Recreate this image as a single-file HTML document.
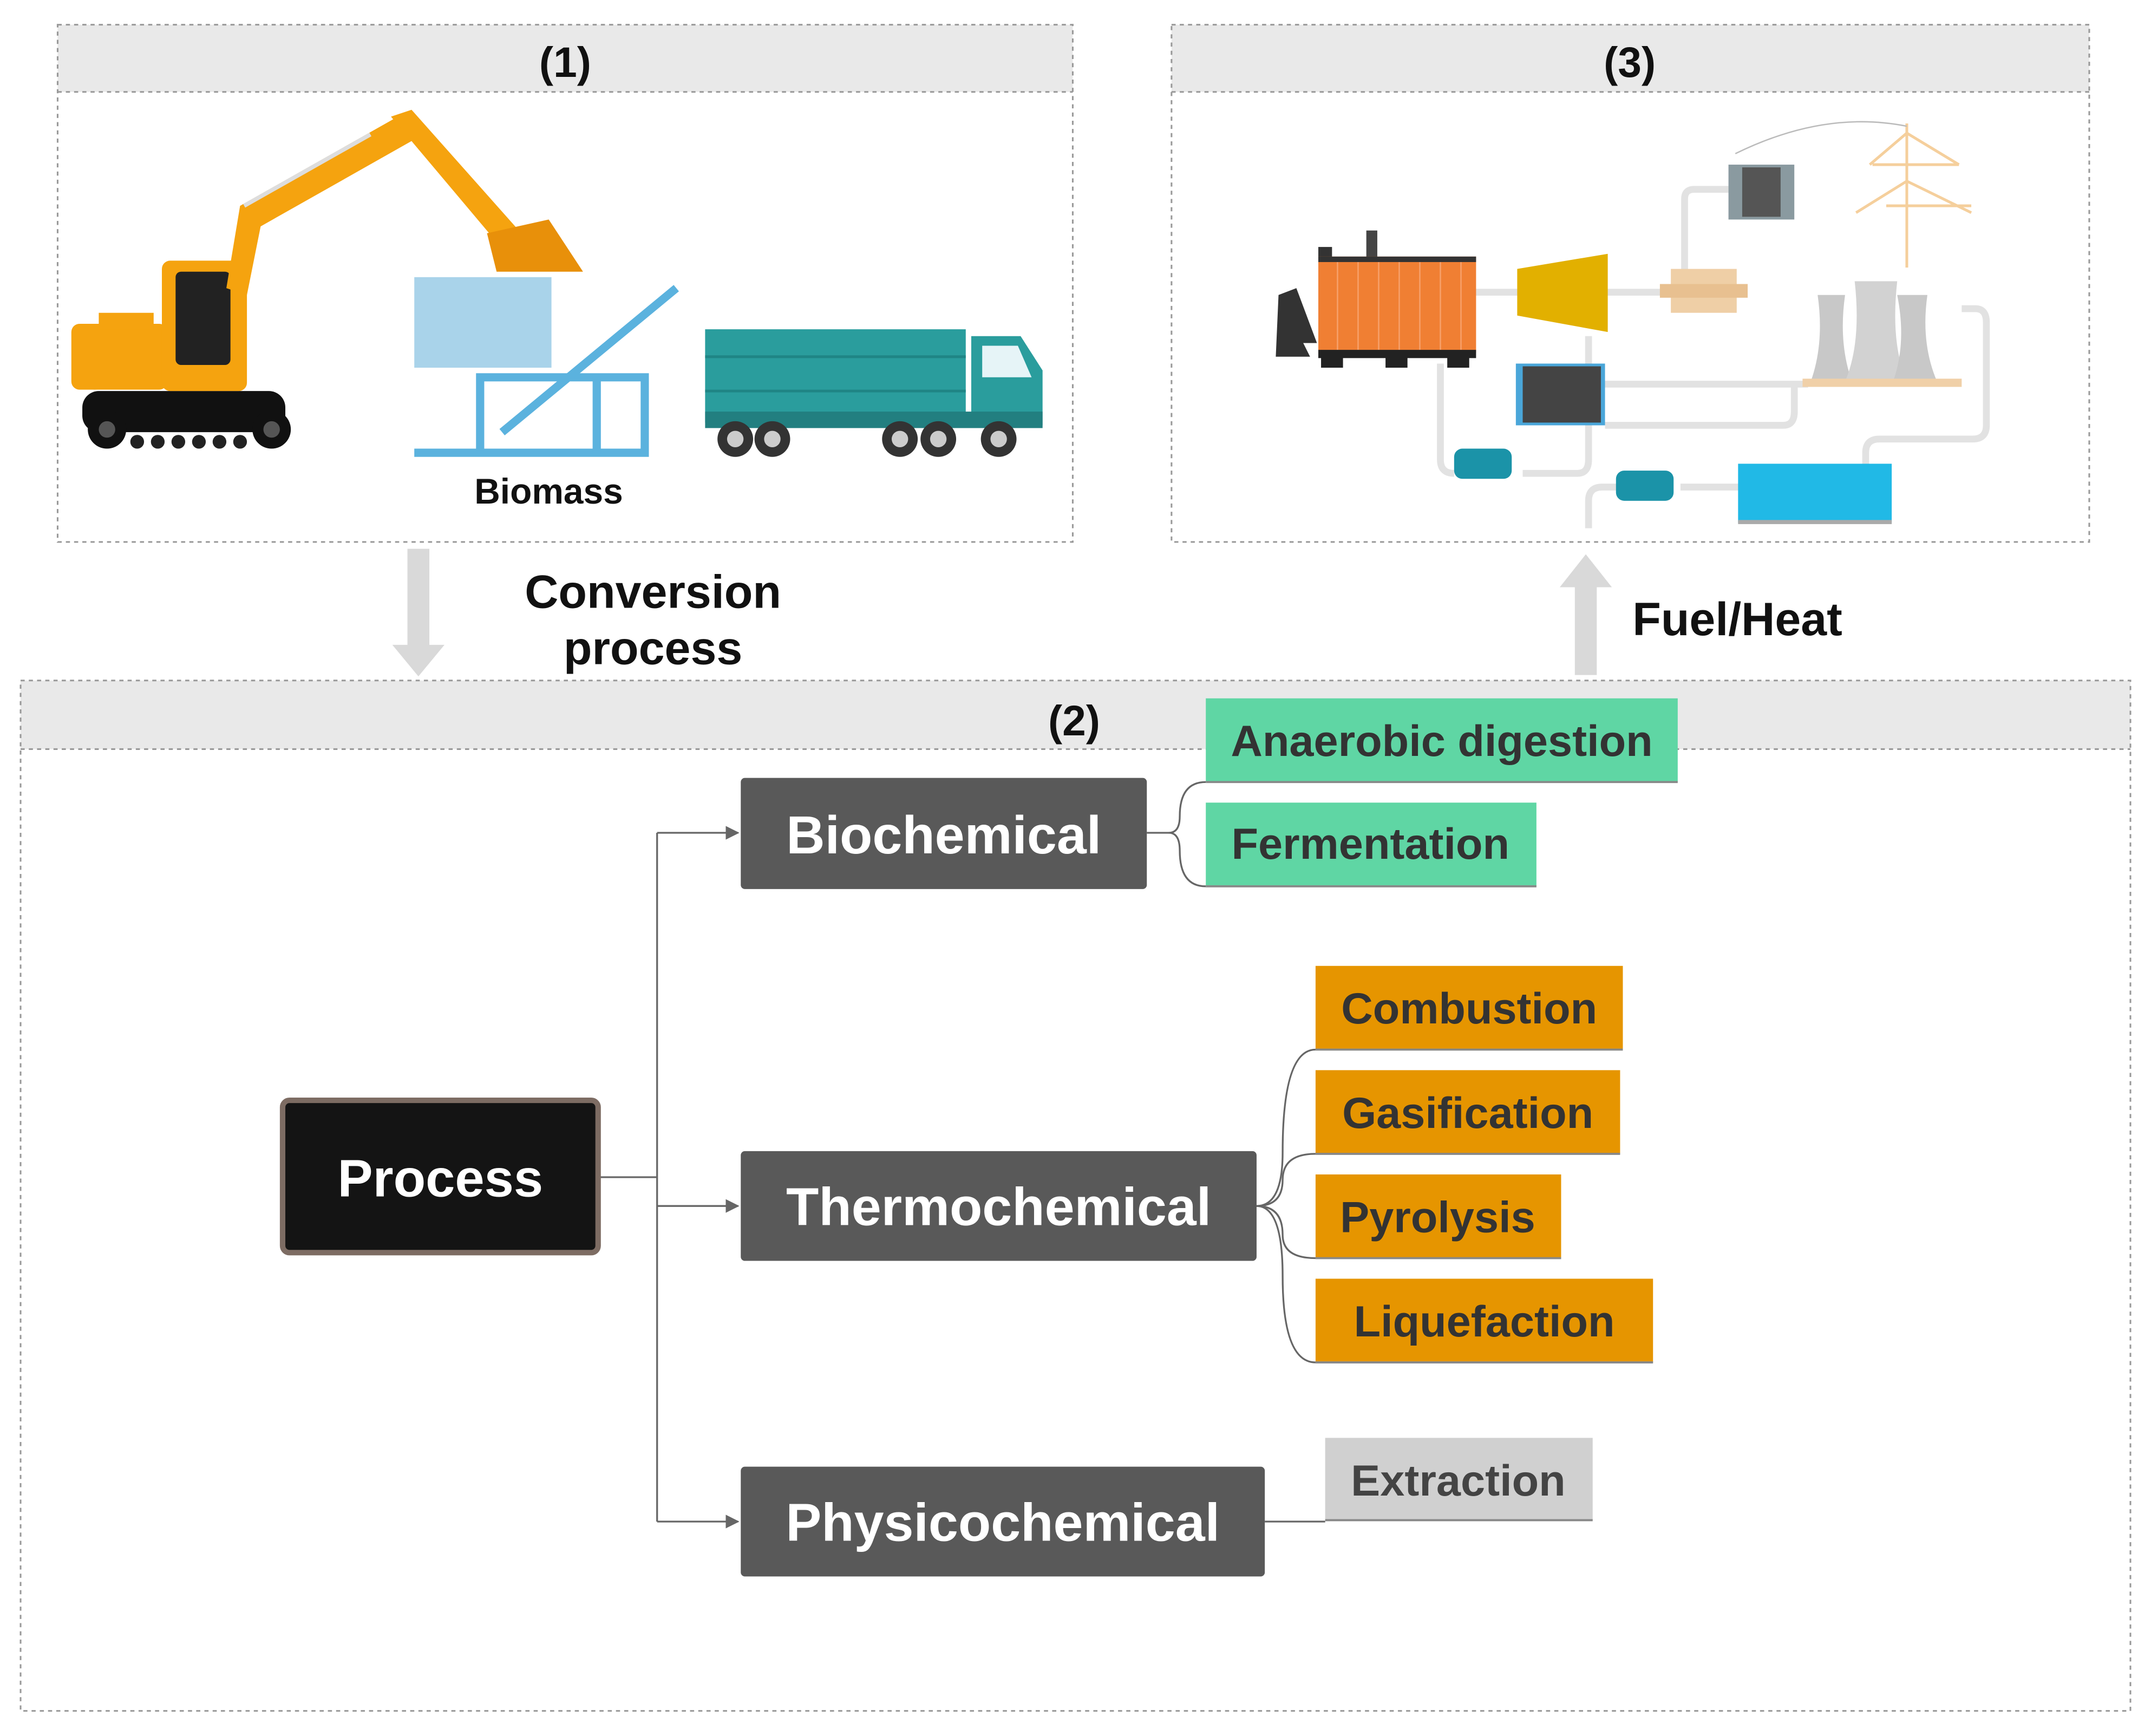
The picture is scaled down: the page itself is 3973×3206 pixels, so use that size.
<!DOCTYPE html>
<html><head><meta charset="utf-8"><style>
html,body{margin:0;padding:0;background:#fff;}
svg{display:block;}
text{font-family:"Liberation Sans",Arial,sans-serif;font-weight:bold;}
</style></head><body>
<svg width="3973" height="3206" viewBox="0 0 1568 1265.3" xmlns="http://www.w3.org/2000/svg">
<defs>
<marker id="ah" markerWidth="10" markerHeight="10" refX="9" refY="5" orient="auto" markerUnits="userSpaceOnUse"><path d="M0,0 L10,5 L0,10 z" fill="#666"/></marker>
</defs>
<rect width="1568" height="1265.3" fill="#fff"/>
<!-- Box 1 -->
<rect x="42" y="18" width="740" height="49" fill="#e9e9e9"/>
<rect x="42" y="18" width="740" height="377" fill="none" stroke="#999" stroke-width="1.2" stroke-dasharray="3,3"/>
<line x1="42" y1="67" x2="782" y2="67" stroke="#999" stroke-width="1.2" stroke-dasharray="3,3"/>
<text x="412" y="56" font-size="31" text-anchor="middle" fill="#111">(1)</text>
<!-- Box 3 -->
<rect x="854" y="18" width="669" height="49" fill="#e9e9e9"/>
<rect x="854" y="18" width="669" height="377" fill="none" stroke="#999" stroke-width="1.2" stroke-dasharray="3,3"/>
<line x1="854" y1="67" x2="1523" y2="67" stroke="#999" stroke-width="1.2" stroke-dasharray="3,3"/>
<text x="1188" y="56" font-size="31" text-anchor="middle" fill="#111">(3)</text>
<!-- Box 2 -->
<rect x="15" y="496" width="1538" height="50" fill="#e9e9e9"/>
<rect x="15" y="496" width="1538" height="751" fill="none" stroke="#999" stroke-width="1.2" stroke-dasharray="3,3"/>
<line x1="15" y1="546" x2="1553" y2="546" stroke="#999" stroke-width="1.2" stroke-dasharray="3,3"/>
<text x="783" y="536" font-size="31" text-anchor="middle" fill="#111">(2)</text>

<!-- big arrows -->
<path d="M297,400 H313 V470 H324 L305,493 L286,470 H297 Z" fill="#d9d9d9"/>
<text x="476" y="443" font-size="34" text-anchor="middle" fill="#111">Conversion</text>
<text x="476" y="484" font-size="34" text-anchor="middle" fill="#111">process</text>
<path d="M1148,492 H1164 V428 H1175 L1156,404 L1137,428 H1148 Z" fill="#d9d9d9"/>
<text x="1190" y="463" font-size="34" fill="#111">Fuel/Heat</text>

<!-- Illustration 1: excavator -->
<g>
<rect x="60" y="285" width="148" height="30" rx="12" fill="#111"/>
<circle cx="78" cy="313" r="14" fill="#111"/><circle cx="198" cy="313" r="14" fill="#111"/>
<circle cx="78" cy="313" r="6" fill="#555"/><circle cx="198" cy="313" r="6" fill="#555"/>
<g fill="#222"><circle cx="100" cy="322" r="5"/><circle cx="115" cy="322" r="5"/><circle cx="130" cy="322" r="5"/><circle cx="145" cy="322" r="5"/><circle cx="160" cy="322" r="5"/><circle cx="175" cy="322" r="5"/></g>
<rect x="52" y="236" width="70" height="48" rx="6" fill="#f5a30f"/>
<rect x="72" y="228" width="40" height="12" fill="#f5a30f"/>
<rect x="118" y="190" width="62" height="95" rx="6" fill="#f5a30f"/>
<rect x="128" y="198" width="40" height="68" rx="4" fill="#222"/>
<path d="M165,210 L175,150 L290,85 L305,100 L190,165 L180,215 Z" fill="#f5a30f"/>
<path d="M285,85 L300,80 L380,170 L365,180 Z" fill="#f5a30f"/>
<path d="M355,170 L400,160 L425,198 L362,198 Z" fill="#e8900a"/>
<line x1="178" y1="150" x2="270" y2="98" stroke="#ddd" stroke-width="3"/>
</g>
<!-- Biomass container -->
<rect x="302" y="202" width="100" height="66" fill="#a9d3ea"/>
<g stroke="#5bb2de" stroke-width="6" fill="none">
<path d="M302,330 H470 V275 H350 V330"/>
<line x1="435" y1="275" x2="435" y2="330"/>
<line x1="366" y1="315" x2="493" y2="210"/>
</g>
<text x="400" y="367" font-size="26" text-anchor="middle" fill="#111">Biomass</text>
<!-- truck -->
<rect x="514" y="240" width="190" height="68" fill="#2a9d9d"/>
<g stroke="#1f8585" stroke-width="2"><line x1="514" y1="260" x2="704" y2="260"/><line x1="514" y1="285" x2="704" y2="285"/></g>
<path d="M708,245 H744 L760,270 V310 H708 Z" fill="#2a9d9d"/>
<path d="M716,252 H742 L752,275 H716 Z" fill="#e6f4f7"/>
<rect x="514" y="300" width="246" height="12" fill="#227f80"/>
<g fill="#333"><circle cx="536" cy="320" r="13"/><circle cx="563" cy="320" r="13"/><circle cx="656" cy="320" r="13"/><circle cx="684" cy="320" r="13"/><circle cx="728" cy="320" r="13"/></g>
<g fill="#ccc"><circle cx="536" cy="320" r="6"/><circle cx="563" cy="320" r="6"/><circle cx="656" cy="320" r="6"/><circle cx="684" cy="320" r="6"/><circle cx="728" cy="320" r="6"/></g>

<!-- Illustration 3: power plant -->
<g fill="none" stroke="#e2e2e2" stroke-width="5">
<path d="M1075,213 H1110"/><path d="M1170,213 H1215"/>
<path d="M1228,198 V145 Q1228,138 1235,138 H1260"/>
<path d="M1170,280 H1318"/><path d="M1170,310 H1300 Q1308,310 1308,300 V280"/>
<path d="M1430,225 H1440 Q1448,225 1448,235 V310 Q1448,320 1438,320 H1370 Q1360,320 1360,330 V345"/>
<path d="M1050,265 V335 Q1050,345 1060,345"/><path d="M1110,345 H1150 Q1158,345 1158,335 V245"/>
<path d="M1158,385 V365 Q1158,355 1168,355 H1180"/><path d="M1225,355 H1268"/>
</g>
<path d="M932,215 L945,210 L960,250 H950 L955,260 H930 Z" fill="#333"/>
<rect x="961" y="180" width="10" height="12" fill="#333"/><rect x="996" y="168" width="8" height="22" fill="#444"/>
<rect x="961" y="187" width="115" height="70" fill="#f07f33"/>
<g stroke="#f7a06a" stroke-width="1">
<line x1="975" y1="190" x2="975" y2="255"/><line x1="990" y1="190" x2="990" y2="255"/><line x1="1005" y1="190" x2="1005" y2="255"/><line x1="1020" y1="190" x2="1020" y2="255"/><line x1="1035" y1="190" x2="1035" y2="255"/><line x1="1050" y1="190" x2="1050" y2="255"/><line x1="1065" y1="190" x2="1065" y2="255"/></g>
<rect x="961" y="187" width="115" height="4" fill="#333"/>
<rect x="961" y="255" width="115" height="6" fill="#222"/>
<rect x="963" y="260" width="16" height="8" fill="#222"/><rect x="1010" y="260" width="16" height="8" fill="#222"/><rect x="1055" y="260" width="16" height="8" fill="#222"/>
<path d="M1106,196 L1172,185 V242 L1106,230 Z" fill="#e2b000"/>
<rect x="1218" y="196" width="48" height="32" fill="#efcfa6"/>
<rect x="1210" y="207" width="64" height="10" fill="#e8c090"/>
<rect x="1260" y="120" width="48" height="40" fill="#8a9aa0"/>
<rect x="1270" y="122" width="28" height="36" fill="#555"/>
<g stroke="#f5cf9c" stroke-width="2" fill="none">
<path d="M1390,90 V195"/><path d="M1365,120 H1428 M1375,150 H1437"/>
<path d="M1363,120 L1390,97 L1428,120"/><path d="M1353,155 L1390,132 L1437,155"/>
</g>
<path d="M1265,112 Q1330,80 1390,92" stroke="#bbb" stroke-width="1" fill="none"/>
<path d="M1325,215 H1345 Q1340,250 1350,278 H1320 Q1330,250 1325,215 Z" fill="#c8c8c8"/>
<path d="M1352,205 H1383 Q1378,250 1390,278 H1345 Q1357,250 1352,205 Z" fill="#d2d2d2"/>
<path d="M1383,215 H1405 Q1400,250 1412,278 H1380 Q1390,250 1383,215 Z" fill="#c8c8c8"/>
<rect x="1314" y="276" width="116" height="6" fill="#f0d0a8"/>
<rect x="1105" y="265" width="65" height="45" fill="#4aa6d9"/>
<rect x="1110" y="267" width="57" height="41" fill="#444"/>
<rect x="1060" y="327" width="42" height="22" rx="6" fill="#1b93a8"/>
<rect x="1178" y="343" width="42" height="22" rx="6" fill="#1b93a8"/>
<rect x="1267" y="338" width="112" height="43" fill="#21b9e6"/>
<rect x="1267" y="379" width="112" height="3" fill="#aaa"/>

<!-- connectors -->
<g stroke="#666" stroke-width="1.3" fill="none">
<path d="M436,858 H479"/>
<path d="M479,607 V1109"/>
<path d="M479,607 H538" marker-end="url(#ah)"/>
<path d="M479,879 H538" marker-end="url(#ah)"/>
<path d="M479,1109 H538" marker-end="url(#ah)"/>
<path d="M836,607 H852 Q860,607 860,595 Q860,570 879,570"/>
<path d="M852,607 Q860,607 860,620 Q860,646 879,646"/>
<path d="M916,879 Q935,879 935,840 Q935,765 959,765"/>
<path d="M916,879 Q935,879 935,860 Q935,841 959,841"/>
<path d="M916,879 Q935,879 935,900 Q935,917 959,917"/>
<path d="M916,879 Q935,879 935,930 Q935,993 959,993"/>
<path d="M922,1109 H966"/>
</g>

<!-- nodes -->
<rect x="206" y="802" width="230" height="111" rx="5" fill="#141414" stroke="#7d6c63" stroke-width="4"/>
<text x="321" y="872" font-size="38.5" text-anchor="middle" fill="#fff">Process</text>
<rect x="540" y="567" width="296" height="81" rx="3" fill="#595959"/>
<text x="688" y="622" font-size="39" text-anchor="middle" fill="#fff">Biochemical</text>
<rect x="540" y="839" width="376" height="80" rx="3" fill="#595959"/>
<text x="728" y="893" font-size="39" text-anchor="middle" fill="#fff">Thermochemical</text>
<rect x="540" y="1069" width="382" height="80" rx="3" fill="#595959"/>
<text x="731" y="1123" font-size="39" text-anchor="middle" fill="#fff">Physicochemical</text>

<g font-size="32">
<rect x="879" y="509" width="344" height="61" fill="#5fd6a4"/><line x1="879" y1="570" x2="1223" y2="570" stroke="#888" stroke-width="1.5"/>
<text x="1051" y="551" text-anchor="middle" fill="#333">Anaerobic digestion</text>
<rect x="879" y="585" width="241" height="61" fill="#5fd6a4"/><line x1="879" y1="646" x2="1120" y2="646" stroke="#888" stroke-width="1.5"/>
<text x="999" y="626" text-anchor="middle" fill="#333">Fermentation</text>
<rect x="959" y="704" width="224" height="61" fill="#e69500"/><line x1="959" y1="765" x2="1183" y2="765" stroke="#888" stroke-width="1.5"/>
<text x="1071" y="746" text-anchor="middle" fill="#333">Combustion</text>
<rect x="959" y="780" width="222" height="61" fill="#e69500"/><line x1="959" y1="841" x2="1181" y2="841" stroke="#888" stroke-width="1.5"/>
<text x="1070" y="822" text-anchor="middle" fill="#333">Gasification</text>
<rect x="959" y="856" width="179" height="61" fill="#e69500"/><line x1="959" y1="917" x2="1138" y2="917" stroke="#888" stroke-width="1.5"/>
<text x="1048" y="898" text-anchor="middle" fill="#333">Pyrolysis</text>
<rect x="959" y="932" width="246" height="61" fill="#e69500"/><line x1="959" y1="993" x2="1205" y2="993" stroke="#888" stroke-width="1.5"/>
<text x="1082" y="974" text-anchor="middle" fill="#333">Liquefaction</text>
<rect x="966" y="1048" width="195" height="60" fill="#d0d0d0"/><line x1="966" y1="1108" x2="1161" y2="1108" stroke="#888" stroke-width="1.5"/>
<text x="1063" y="1090" text-anchor="middle" fill="#444">Extraction</text>
</g>
</svg>
</body></html>
